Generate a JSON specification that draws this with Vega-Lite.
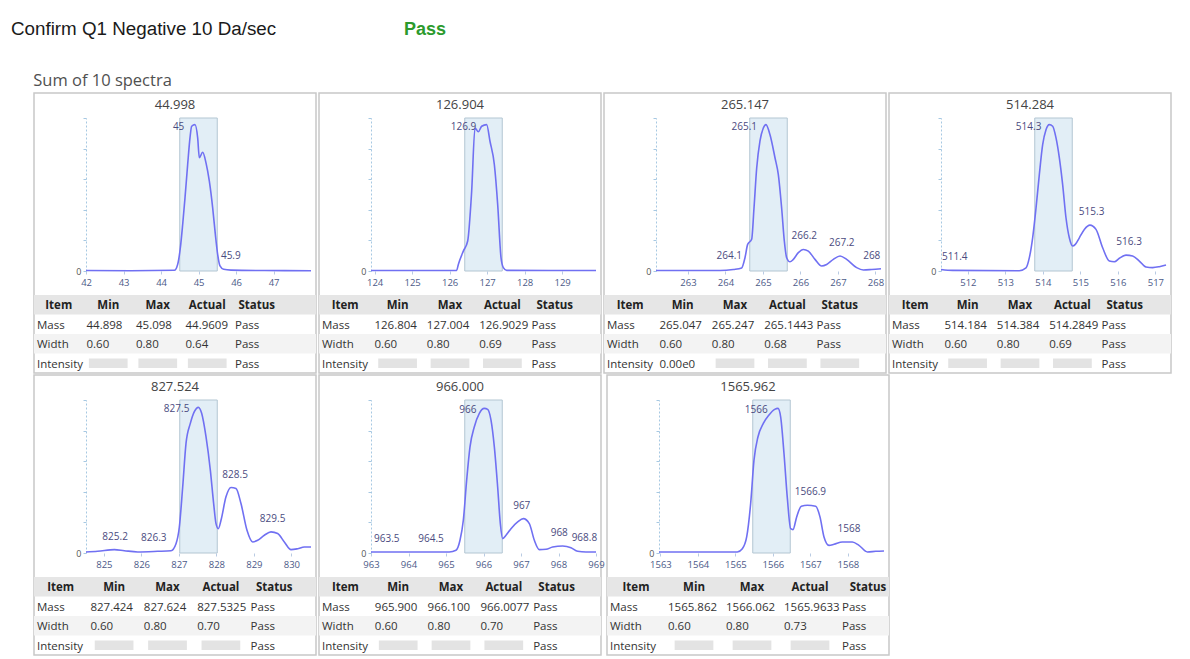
{
"$schema": "https://vega.github.io/schema/vega-lite/v6.json",
"padding": {"left": 11, "top": 19, "right": 0, "bottom": 0},
"background": "white",
"config": {"view": {"stroke": null}, "font": "Open Sans", "text": {"font": "Open Sans"}, "axis": {"labelFont": "Open Sans"}},
"datasets": {
"win": [
{"p":"44.998","lo":44.498,"hi":45.498},
{"p":"126.904","lo":126.404,"hi":127.404},
{"p":"265.147","lo":264.647,"hi":265.647},
{"p":"514.284","lo":513.784,"hi":514.784},
{"p":"827.524","lo":827.024,"hi":828.024},
{"p":"966.000","lo":965.5,"hi":966.5},
{"p":"1565.962","lo":1565.462,"hi":1566.462}
],
"lab": [
{"p":"44.998","mz":44.86,"i":95.7,"t":"45","k":"main"},
{"p":"44.998","mz":45.86,"i":1,"t":"45.9","k":"side"},
{"p":"126.904","mz":126.95,"i":95.7,"t":"126.9","k":"main"},
{"p":"265.147","mz":265.08,"i":95.7,"t":"265.1","k":"main"},
{"p":"265.147","mz":264.1,"i":1.2,"t":"264.1","k":"side"},
{"p":"265.147","mz":266.1,"i":14.1,"t":"266.2","k":"side"},
{"p":"265.147","mz":267.1,"i":9.8,"t":"267.2","k":"side"},
{"p":"265.147","mz":267.9,"i":1,"t":"268","k":"side"},
{"p":"514.284","mz":514.2,"i":95.7,"t":"514.3","k":"main"},
{"p":"514.284","mz":511.65,"i":0.5,"t":"511.4","k":"side"},
{"p":"514.284","mz":515.3,"i":30,"t":"515.3","k":"side"},
{"p":"514.284","mz":516.3,"i":10.4,"t":"516.3","k":"side"},
{"p":"827.524","mz":827.52,"i":95.2,"t":"827.5","k":"main"},
{"p":"827.524","mz":825.3,"i":2.2,"t":"825.2","k":"side"},
{"p":"827.524","mz":826.33,"i":1.1,"t":"826.3","k":"side"},
{"p":"827.524","mz":828.5,"i":42.8,"t":"828.5","k":"side"},
{"p":"827.524","mz":829.5,"i":13.8,"t":"829.5","k":"side"},
{"p":"966.000","mz":966.05,"i":94.5,"t":"966","k":"main"},
{"p":"966.000","mz":963.42,"i":0.7,"t":"963.5","k":"side"},
{"p":"966.000","mz":964.6,"i":0.7,"t":"964.5","k":"side"},
{"p":"966.000","mz":967.02,"i":22.5,"t":"967","k":"side"},
{"p":"966.000","mz":968.02,"i":4.6,"t":"968","k":"side"},
{"p":"966.000","mz":968.69,"i":1,"t":"968.8","k":"side"},
{"p":"1565.962","mz":1566.1,"i":94.5,"t":"1566","k":"main"},
{"p":"1565.962","mz":1567.0,"i":31.2,"t":"1566.9","k":"side"},
{"p":"1565.962","mz":1568.03,"i":7.2,"t":"1568","k":"side"}
],
"hdr": [
{"row":"Item","col":"Item"},{"row":"Item","col":"Min"},{"row":"Item","col":"Max"},{"row":"Item","col":"Actual"},{"row":"Item","col":"Status"}
],
"rowbg": [{"row":"Item"},{"row":"Width"}],
"tbl": [
{"p":"44.998","row":"Mass","Item":"Mass","Min":"44.898","Max":"45.098","Actual":"44.9609","Status":"Pass"},
{"p":"44.998","row":"Width","Item":"Width","Min":"0.60","Max":"0.80","Actual":"0.64","Status":"Pass"},
{"p":"44.998","row":"Intensity","Item":"Intensity","Min":null,"Max":null,"Actual":null,"Status":"Pass"},
{"p":"126.904","row":"Mass","Item":"Mass","Min":"126.804","Max":"127.004","Actual":"126.9029","Status":"Pass"},
{"p":"126.904","row":"Width","Item":"Width","Min":"0.60","Max":"0.80","Actual":"0.69","Status":"Pass"},
{"p":"126.904","row":"Intensity","Item":"Intensity","Min":null,"Max":null,"Actual":null,"Status":"Pass"},
{"p":"265.147","row":"Mass","Item":"Mass","Min":"265.047","Max":"265.247","Actual":"265.1443","Status":"Pass"},
{"p":"265.147","row":"Width","Item":"Width","Min":"0.60","Max":"0.80","Actual":"0.68","Status":"Pass"},
{"p":"265.147","row":"Intensity","Item":"Intensity","Min":"0.00e0","Max":null,"Actual":null,"Status":null},
{"p":"514.284","row":"Mass","Item":"Mass","Min":"514.184","Max":"514.384","Actual":"514.2849","Status":"Pass"},
{"p":"514.284","row":"Width","Item":"Width","Min":"0.60","Max":"0.80","Actual":"0.69","Status":"Pass"},
{"p":"514.284","row":"Intensity","Item":"Intensity","Min":null,"Max":null,"Actual":null,"Status":"Pass"},
{"p":"827.524","row":"Mass","Item":"Mass","Min":"827.424","Max":"827.624","Actual":"827.5325","Status":"Pass"},
{"p":"827.524","row":"Width","Item":"Width","Min":"0.60","Max":"0.80","Actual":"0.70","Status":"Pass"},
{"p":"827.524","row":"Intensity","Item":"Intensity","Min":null,"Max":null,"Actual":null,"Status":"Pass"},
{"p":"966.000","row":"Mass","Item":"Mass","Min":"965.900","Max":"966.100","Actual":"966.0077","Status":"Pass"},
{"p":"966.000","row":"Width","Item":"Width","Min":"0.60","Max":"0.80","Actual":"0.70","Status":"Pass"},
{"p":"966.000","row":"Intensity","Item":"Intensity","Min":null,"Max":null,"Actual":null,"Status":"Pass"},
{"p":"1565.962","row":"Mass","Item":"Mass","Min":"1565.862","Max":"1566.062","Actual":"1565.9633","Status":"Pass"},
{"p":"1565.962","row":"Width","Item":"Width","Min":"0.60","Max":"0.80","Actual":"0.73","Status":"Pass"},
{"p":"1565.962","row":"Intensity","Item":"Intensity","Min":null,"Max":null,"Actual":null,"Status":"Pass"}
],
"spec": [
{"p":"44.998","mz":41.998,"i":0.3},{"p":"44.998","mz":43.198,"i":0.2},{"p":"44.998","mz":44.354,"i":0.5},{"p":"44.998","mz":44.442,"i":4.3},{"p":"44.998","mz":44.514,"i":15.2},{"p":"44.998","mz":44.576,"i":30.4},{"p":"44.998","mz":44.638,"i":47.8},{"p":"44.998","mz":44.709,"i":69.6},{"p":"44.998","mz":44.771,"i":87},{"p":"44.998","mz":44.816,"i":94.6},{"p":"44.998","mz":44.904,"i":95.7},{"p":"44.998","mz":44.976,"i":87},{"p":"44.998","mz":45.02,"i":74},{"p":"44.998","mz":45.109,"i":77.6},{"p":"44.998","mz":45.198,"i":70.7},{"p":"44.998","mz":45.287,"i":58.7},{"p":"44.998","mz":45.376,"i":41.3},{"p":"44.998","mz":45.447,"i":23.9},{"p":"44.998","mz":45.509,"i":10.9},{"p":"44.998","mz":45.571,"i":3.3},{"p":"44.998","mz":45.669,"i":1.1},{"p":"44.998","mz":45.864,"i":0.6},{"p":"44.998","mz":46.753,"i":0.3},{"p":"44.998","mz":47.998,"i":0.2},
{"p":"126.904","mz":123.904,"i":0.3},{"p":"126.904","mz":125.5,"i":0.3},{"p":"126.904","mz":126.188,"i":0.4},{"p":"126.904","mz":126.233,"i":4.3},{"p":"126.904","mz":126.366,"i":13},{"p":"126.904","mz":126.482,"i":19.6},{"p":"126.904","mz":126.588,"i":52},{"p":"126.904","mz":126.677,"i":93.5},{"p":"126.904","mz":126.766,"i":91},{"p":"126.904","mz":126.855,"i":94.6},{"p":"126.904","mz":126.988,"i":95.7},{"p":"126.904","mz":127.077,"i":84.8},{"p":"126.904","mz":127.193,"i":69.6},{"p":"126.904","mz":127.282,"i":43.5},{"p":"126.904","mz":127.371,"i":8.7},{"p":"126.904","mz":127.433,"i":2.2},{"p":"126.904","mz":127.522,"i":0.4},{"p":"126.904","mz":128.7,"i":0.3},{"p":"126.904","mz":129.904,"i":0.3},
{"p":"265.147","mz":262.147,"i":0.3},{"p":"265.147","mz":263.854,"i":0.3},{"p":"265.147","mz":264.209,"i":1},{"p":"265.147","mz":264.431,"i":2},{"p":"265.147","mz":264.52,"i":8.7},{"p":"265.147","mz":264.591,"i":17.4},{"p":"265.147","mz":264.698,"i":20.7},{"p":"265.147","mz":264.76,"i":41},{"p":"265.147","mz":264.831,"i":67},{"p":"265.147","mz":264.92,"i":85},{"p":"265.147","mz":265.009,"i":93.5},{"p":"265.147","mz":265.08,"i":95.7},{"p":"265.147","mz":265.187,"i":89},{"p":"265.147","mz":265.32,"i":74},{"p":"265.147","mz":265.409,"i":63},{"p":"265.147","mz":265.498,"i":41},{"p":"265.147","mz":265.569,"i":19.6},{"p":"265.147","mz":265.631,"i":8.7},{"p":"265.147","mz":265.72,"i":6},{"p":"265.147","mz":265.809,"i":7.6},{"p":"265.147","mz":265.943,"i":12},{"p":"265.147","mz":266.076,"i":14.1},{"p":"265.147","mz":266.209,"i":13},{"p":"265.147","mz":266.387,"i":7.6},{"p":"265.147","mz":266.565,"i":3.3},{"p":"265.147","mz":266.698,"i":4.3},{"p":"265.147","mz":266.876,"i":7.6},{"p":"265.147","mz":267.054,"i":9.8},{"p":"265.147","mz":267.231,"i":7.6},{"p":"265.147","mz":267.498,"i":2.2},{"p":"265.147","mz":267.676,"i":0.7},{"p":"265.147","mz":267.898,"i":1},{"p":"265.147","mz":268.147,"i":1.5},
{"p":"514.284","mz":511.284,"i":1},{"p":"514.284","mz":511.595,"i":0.4},{"p":"514.284","mz":513.373,"i":0.2},{"p":"514.284","mz":513.551,"i":2},{"p":"514.284","mz":513.64,"i":8.7},{"p":"514.284","mz":513.728,"i":21.7},{"p":"514.284","mz":513.817,"i":41},{"p":"514.284","mz":513.906,"i":63},{"p":"514.284","mz":513.995,"i":82.6},{"p":"514.284","mz":514.084,"i":92.4},{"p":"514.284","mz":514.173,"i":95.7},{"p":"514.284","mz":514.262,"i":94.6},{"p":"514.284","mz":514.351,"i":87},{"p":"514.284","mz":514.44,"i":74},{"p":"514.284","mz":514.528,"i":56.5},{"p":"514.284","mz":514.617,"i":34.8},{"p":"514.284","mz":514.706,"i":21.7},{"p":"514.284","mz":514.795,"i":16.3},{"p":"514.284","mz":514.866,"i":17.4},{"p":"514.284","mz":514.973,"i":21.7},{"p":"514.284","mz":515.106,"i":27.2},{"p":"514.284","mz":515.257,"i":30},{"p":"514.284","mz":515.417,"i":27.2},{"p":"514.284","mz":515.595,"i":15.2},{"p":"514.284","mz":515.773,"i":6.5},{"p":"514.284","mz":515.906,"i":6},{"p":"514.284","mz":516.04,"i":8.3},{"p":"514.284","mz":516.217,"i":10.4},{"p":"514.284","mz":516.395,"i":9.8},{"p":"514.284","mz":516.573,"i":6.5},{"p":"514.284","mz":516.751,"i":2.6},{"p":"514.284","mz":516.928,"i":2.2},{"p":"514.284","mz":517.106,"i":2.8},{"p":"514.284","mz":517.284,"i":3.9},
{"p":"827.524","mz":824.524,"i":0.7},{"p":"827.524","mz":824.835,"i":1.1},{"p":"827.524","mz":825.28,"i":2.2},{"p":"827.524","mz":825.546,"i":1.5},{"p":"827.524","mz":825.902,"i":0.7},{"p":"827.524","mz":826.435,"i":1.1},{"p":"827.524","mz":826.791,"i":1.5},{"p":"827.524","mz":826.924,"i":6.1},{"p":"827.524","mz":827.013,"i":17},{"p":"827.524","mz":827.102,"i":43},{"p":"827.524","mz":827.191,"i":71.6},{"p":"827.524","mz":827.306,"i":84.7},{"p":"827.524","mz":827.413,"i":92.4},{"p":"827.524","mz":827.52,"i":95.2},{"p":"827.524","mz":827.608,"i":91.3},{"p":"827.524","mz":827.724,"i":76},{"p":"827.524","mz":827.84,"i":54},{"p":"827.524","mz":827.928,"i":32.3},{"p":"827.524","mz":827.991,"i":19.2},{"p":"827.524","mz":828.053,"i":15.9},{"p":"827.524","mz":828.124,"i":21.4},{"p":"827.524","mz":828.257,"i":36.7},{"p":"827.524","mz":828.391,"i":42.8},{"p":"827.524","mz":828.524,"i":42.1},{"p":"827.524","mz":828.657,"i":32.3},{"p":"827.524","mz":828.817,"i":14.8},{"p":"827.524","mz":828.968,"i":7.2},{"p":"827.524","mz":829.102,"i":8.3},{"p":"827.524","mz":829.28,"i":11.6},{"p":"827.524","mz":829.457,"i":13.8},{"p":"827.524","mz":829.635,"i":12.7},{"p":"827.524","mz":829.813,"i":7.2},{"p":"827.524","mz":829.991,"i":2.2},{"p":"827.524","mz":830.168,"i":2.8},{"p":"827.524","mz":830.346,"i":3.9},{"p":"827.524","mz":830.524,"i":3.9},
{"p":"966.000","mz":963.0,"i":0.7},{"p":"966.000","mz":964.2,"i":0.7},{"p":"966.000","mz":965.089,"i":0.7},{"p":"966.000","mz":965.267,"i":1.8},{"p":"966.000","mz":965.373,"i":8.3},{"p":"966.000","mz":965.462,"i":21.4},{"p":"966.000","mz":965.551,"i":47.6},{"p":"966.000","mz":965.64,"i":69.4},{"p":"966.000","mz":965.756,"i":82.5},{"p":"966.000","mz":965.889,"i":91.3},{"p":"966.000","mz":966.022,"i":94.5},{"p":"966.000","mz":966.111,"i":93.9},{"p":"966.000","mz":966.2,"i":86.9},{"p":"966.000","mz":966.289,"i":69.4},{"p":"966.000","mz":966.378,"i":43},{"p":"966.000","mz":966.449,"i":19.2},{"p":"966.000","mz":966.511,"i":9.4},{"p":"966.000","mz":966.6,"i":11.6},{"p":"966.000","mz":966.733,"i":15.9},{"p":"966.000","mz":966.911,"i":20.3},{"p":"966.000","mz":967.062,"i":22.5},{"p":"966.000","mz":967.222,"i":19.2},{"p":"966.000","mz":967.356,"i":8.3},{"p":"966.000","mz":967.489,"i":2.2},{"p":"966.000","mz":967.667,"i":2.4},{"p":"966.000","mz":967.844,"i":3.9},{"p":"966.000","mz":968.111,"i":4.6},{"p":"966.000","mz":968.333,"i":3.5},{"p":"966.000","mz":968.511,"i":1.1},{"p":"966.000","mz":968.733,"i":0.7},{"p":"966.000","mz":969.0,"i":0.7},
{"p":"1565.962","mz":1562.962,"i":0.7},{"p":"1565.962","mz":1565.051,"i":0.7},{"p":"1565.962","mz":1565.184,"i":2.8},{"p":"1565.962","mz":1565.3,"i":10.5},{"p":"1565.962","mz":1565.406,"i":32.3},{"p":"1565.962","mz":1565.495,"i":60.7},{"p":"1565.962","mz":1565.602,"i":76},{"p":"1565.962","mz":1565.744,"i":84.7},{"p":"1565.962","mz":1565.895,"i":90.2},{"p":"1565.962","mz":1566.046,"i":93.9},{"p":"1565.962","mz":1566.135,"i":94.5},{"p":"1565.962","mz":1566.206,"i":89},{"p":"1565.962","mz":1566.295,"i":65},{"p":"1565.962","mz":1566.384,"i":36},{"p":"1565.962","mz":1566.473,"i":15.9},{"p":"1565.962","mz":1566.535,"i":15.3},{"p":"1565.962","mz":1566.633,"i":23.6},{"p":"1565.962","mz":1566.758,"i":30.6},{"p":"1565.962","mz":1566.918,"i":31.2},{"p":"1565.962","mz":1567.14,"i":30.6},{"p":"1565.962","mz":1567.255,"i":23.6},{"p":"1565.962","mz":1567.362,"i":10.5},{"p":"1565.962","mz":1567.495,"i":5},{"p":"1565.962","mz":1567.629,"i":5.7},{"p":"1565.962","mz":1567.851,"i":7.2},{"p":"1565.962","mz":1568.118,"i":7.2},{"p":"1565.962","mz":1568.295,"i":5},{"p":"1565.962","mz":1568.518,"i":0.7},{"p":"1565.962","mz":1568.74,"i":1.1},{"p":"1565.962","mz":1568.962,"i":1.3}
]
},
"spacing": 18,
"vconcat": [
{"hconcat": [
 {"width": 370, "height": 1, "title": {"text": "Confirm Q1 Negative 10 Da/sec", "anchor": "start", "dx": -23, "offset": 4, "font": "Liberation Sans", "fontSize": 18.8, "fontWeight": "normal", "color": "#1a1a1a"}, "data": {"values": [{}]}, "mark": "text", "encoding": {"text": {"value": ""}}},
 {"width": 100, "height": 1, "title": {"text": "Pass", "anchor": "start", "offset": 4, "font": "Liberation Sans", "fontSize": 18, "fontWeight": "bold", "color": "#2c9a2c"}, "data": {"values": [{}]}, "mark": "text", "encoding": {"text": {"value": ""}}}
], "spacing": 0},
{"title": {"text": "Sum of 10 spectra", "anchor": "start", "offset": 3, "font": "Open Sans", "fontSize": 16.5, "fontWeight": "normal", "color": "#505050"},
 "spacing": 0,
 "vconcat": [
 {"spacing": 1, "hconcat": [
  {"width":282,"height":280,"view":{"stroke":"#c8c8c8","strokeWidth":1.5},
   "title":{"text":"44.998","offset":-19,"anchor":"middle","fontSize":13,"fontWeight":"normal","color":"#444444","font":"Open Sans"},
   "resolve":{"scale":{"x":"independent","y":"independent"}},
   "layer":[
    {"layer":[
     {"data":{"name":"win"},"transform":[{"filter":{"field":"p","equal":"44.998"}}],"mark":{"type":"rect","fill":"#e2eef6","stroke":"#b3c6d2","strokeWidth":1},
      "encoding":{"x":{"field":"lo","type":"quantitative","scale":{"domain":[41.998,47.998],"range":[52,277],"nice":false,"zero":false},"axis":{"title":null,"orient":"bottom","offset":-102,"domain":false,"ticks":true,"tickSize":3,"tickColor":"#b9cbe3","grid":false,"format":"d","tickCount":6,"labelFontSize":9.5,"labelColor":"#4c5a88","labelPadding":3,"labelFlush":false,"labelOverlap":false}},"x2":{"field":"hi"},
       "y":{"datum":100,"type":"quantitative","scale":{"domain":[0,100],"range":[178,25],"nice":false},"axis":{"title":null,"orient":"left","offset":-52,"values":[0,5,10,15,20,25,30,35,40,45,50,55,60,65,70,75,80,85,90,95,100],"labelExpr":"datum.value === 0 ? '0' : ''","labelOverlap":false,"domain":true,"domainColor":"#a6c8e2","domainDash":[2,2],"ticks":true,"tickColor":"#a6c8e2","tickSize":3,"grid":false,"labelFontSize":9,"labelColor":"#555555","labelPadding":2}},"y2":{"datum":0}}},
     {"data":{"name":"spec"},"transform":[{"filter":{"field":"p","equal":"44.998"}}],"mark":{"type":"line","color":"#7070f2","strokeWidth":1.6,"interpolate":"monotone"},"encoding":{"x":{"field":"mz","type":"quantitative"},"y":{"field":"i","type":"quantitative"}}},
     {"data":{"name":"lab"},"transform":[{"filter":{"field":"p","equal":"44.998"}},{"filter":{"field":"k","equal":"main"}}],"mark":{"type":"text","align":"right","baseline":"middle","dx":-9,"dy":2,"fontSize":10,"color":"#4b4b80"},"encoding":{"x":{"field":"mz","type":"quantitative"},"y":{"field":"i","type":"quantitative"},"text":{"field":"t"}}},
     {"data":{"name":"lab"},"transform":[{"filter":{"field":"p","equal":"44.998"}},{"filter":{"field":"k","equal":"side"}}],"mark":{"type":"text","align":"center","baseline":"bottom","dy":-8,"fontSize":10,"color":"#4b4b80"},"encoding":{"x":{"field":"mz","type":"quantitative"},"y":{"field":"i","type":"quantitative"},"text":{"field":"t"}}}
    ]},
    {"layer":[
     {"data":{"name":"rowbg"},"mark":{"type":"rect"},"encoding":{"y":{"field":"row","type":"nominal","scale":{"type":"band","domain":["Item","Mass","Width","Intensity"],"range":[202,280],"paddingInner":0,"paddingOuter":0},"axis":null},"color":{"field":"row","type":"nominal","scale":{"domain":["Item","Width"],"range":["#e6e6e6","#f3f3f3"]},"legend":null}}},
     {"data":{"name":"hdr"},"mark":{"type":"text","fontWeight":"bold","fontSize":11.5,"color":"#222222","dy":1},"encoding":{"x":{"field":"col","type":"nominal","scale":{"type":"band","domain":["Item","Min","Max","Actual","Status"],"range":[0,247.5],"paddingInner":0,"paddingOuter":0},"axis":null},"y":{"field":"row","type":"nominal"},"text":{"field":"col"}}},
     {"data":{"name":"tbl"},"transform":[{"filter":{"field":"p","equal":"44.998"}},{"fold":["Item","Min","Max","Actual","Status"],"as":["col","v"]},{"filter":"datum.v != null"}],"mark":{"type":"text","align":"left","dx":3,"dy":1.5,"fontSize":11.5,"color":"#333333"},"encoding":{"x":{"field":"col","type":"nominal","bandPosition":0},"y":{"field":"row","type":"nominal"},"text":{"field":"v"}}},
     {"data":{"name":"tbl"},"transform":[{"filter":{"field":"p","equal":"44.998"}},{"fold":["Item","Min","Max","Actual","Status"],"as":["col","v"]},{"filter":"datum.v == null"}],"mark":{"type":"point","shape":"M-1,-0.25L1,-0.25L1,0.25L-1,0.25Z","filled":true,"size":1500,"color":"#e3e3e3","opacity":1},"encoding":{"x":{"field":"col","type":"nominal"},"y":{"field":"row","type":"nominal"}}}
    ]}
   ]},
  {"width":282,"height":280,"view":{"stroke":"#c8c8c8","strokeWidth":1.5},
   "title":{"text":"126.904","offset":-19,"anchor":"middle","fontSize":13,"fontWeight":"normal","color":"#444444","font":"Open Sans"},
   "resolve":{"scale":{"x":"independent","y":"independent"}},
   "layer":[
    {"layer":[
     {"data":{"name":"win"},"transform":[{"filter":{"field":"p","equal":"126.904"}}],"mark":{"type":"rect","fill":"#e2eef6","stroke":"#b3c6d2","strokeWidth":1},
      "encoding":{"x":{"field":"lo","type":"quantitative","scale":{"domain":[123.904,129.904],"range":[52,277],"nice":false,"zero":false},"axis":{"title":null,"orient":"bottom","offset":-102,"domain":false,"ticks":true,"tickSize":3,"tickColor":"#b9cbe3","grid":false,"format":"d","tickCount":6,"labelFontSize":9.5,"labelColor":"#4c5a88","labelPadding":3,"labelFlush":false,"labelOverlap":false}},"x2":{"field":"hi"},
       "y":{"datum":100,"type":"quantitative","scale":{"domain":[0,100],"range":[178,25],"nice":false},"axis":{"title":null,"orient":"left","offset":-52,"values":[0,5,10,15,20,25,30,35,40,45,50,55,60,65,70,75,80,85,90,95,100],"labelExpr":"datum.value === 0 ? '0' : ''","labelOverlap":false,"domain":true,"domainColor":"#a6c8e2","domainDash":[2,2],"ticks":true,"tickColor":"#a6c8e2","tickSize":3,"grid":false,"labelFontSize":9,"labelColor":"#555555","labelPadding":2}},"y2":{"datum":0}}},
     {"data":{"name":"spec"},"transform":[{"filter":{"field":"p","equal":"126.904"}}],"mark":{"type":"line","color":"#7070f2","strokeWidth":1.6,"interpolate":"monotone"},"encoding":{"x":{"field":"mz","type":"quantitative"},"y":{"field":"i","type":"quantitative"}}},
     {"data":{"name":"lab"},"transform":[{"filter":{"field":"p","equal":"126.904"}},{"filter":{"field":"k","equal":"main"}}],"mark":{"type":"text","align":"right","baseline":"middle","dx":-9,"dy":2,"fontSize":10,"color":"#4b4b80"},"encoding":{"x":{"field":"mz","type":"quantitative"},"y":{"field":"i","type":"quantitative"},"text":{"field":"t"}}}
    ]},
    {"layer":[
     {"data":{"name":"rowbg"},"mark":{"type":"rect"},"encoding":{"y":{"field":"row","type":"nominal","scale":{"type":"band","domain":["Item","Mass","Width","Intensity"],"range":[202,280],"paddingInner":0,"paddingOuter":0},"axis":null},"color":{"field":"row","type":"nominal","scale":{"domain":["Item","Width"],"range":["#e6e6e6","#f3f3f3"]},"legend":null}}},
     {"data":{"name":"hdr"},"mark":{"type":"text","fontWeight":"bold","fontSize":11.5,"color":"#222222","dy":1},"encoding":{"x":{"field":"col","type":"nominal","scale":{"type":"band","domain":["Item","Min","Max","Actual","Status"],"range":[0,262],"paddingInner":0,"paddingOuter":0},"axis":null},"y":{"field":"row","type":"nominal"},"text":{"field":"col"}}},
     {"data":{"name":"tbl"},"transform":[{"filter":{"field":"p","equal":"126.904"}},{"fold":["Item","Min","Max","Actual","Status"],"as":["col","v"]},{"filter":"datum.v != null"}],"mark":{"type":"text","align":"left","dx":3,"dy":1.5,"fontSize":11.5,"color":"#333333"},"encoding":{"x":{"field":"col","type":"nominal","bandPosition":0},"y":{"field":"row","type":"nominal"},"text":{"field":"v"}}},
     {"data":{"name":"tbl"},"transform":[{"filter":{"field":"p","equal":"126.904"}},{"fold":["Item","Min","Max","Actual","Status"],"as":["col","v"]},{"filter":"datum.v == null"}],"mark":{"type":"point","shape":"M-1,-0.25L1,-0.25L1,0.25L-1,0.25Z","filled":true,"size":1500,"color":"#e3e3e3","opacity":1},"encoding":{"x":{"field":"col","type":"nominal"},"y":{"field":"row","type":"nominal"}}}
    ]}
   ]},
  {"width":282,"height":280,"view":{"stroke":"#c8c8c8","strokeWidth":1.5},
   "title":{"text":"265.147","offset":-19,"anchor":"middle","fontSize":13,"fontWeight":"normal","color":"#444444","font":"Open Sans"},
   "resolve":{"scale":{"x":"independent","y":"independent"}},
   "layer":[
    {"layer":[
     {"data":{"name":"win"},"transform":[{"filter":{"field":"p","equal":"265.147"}}],"mark":{"type":"rect","fill":"#e2eef6","stroke":"#b3c6d2","strokeWidth":1},
      "encoding":{"x":{"field":"lo","type":"quantitative","scale":{"domain":[262.147,268.147],"range":[52,277],"nice":false,"zero":false},"axis":{"title":null,"orient":"bottom","offset":-102,"domain":false,"ticks":true,"tickSize":3,"tickColor":"#b9cbe3","grid":false,"format":"d","tickCount":6,"labelFontSize":9.5,"labelColor":"#4c5a88","labelPadding":3,"labelFlush":false,"labelOverlap":false}},"x2":{"field":"hi"},
       "y":{"datum":100,"type":"quantitative","scale":{"domain":[0,100],"range":[178,25],"nice":false},"axis":{"title":null,"orient":"left","offset":-52,"values":[0,5,10,15,20,25,30,35,40,45,50,55,60,65,70,75,80,85,90,95,100],"labelExpr":"datum.value === 0 ? '0' : ''","labelOverlap":false,"domain":true,"domainColor":"#a6c8e2","domainDash":[2,2],"ticks":true,"tickColor":"#a6c8e2","tickSize":3,"grid":false,"labelFontSize":9,"labelColor":"#555555","labelPadding":2}},"y2":{"datum":0}}},
     {"data":{"name":"spec"},"transform":[{"filter":{"field":"p","equal":"265.147"}}],"mark":{"type":"line","color":"#7070f2","strokeWidth":1.6,"interpolate":"monotone"},"encoding":{"x":{"field":"mz","type":"quantitative"},"y":{"field":"i","type":"quantitative"}}},
     {"data":{"name":"lab"},"transform":[{"filter":{"field":"p","equal":"265.147"}},{"filter":{"field":"k","equal":"main"}}],"mark":{"type":"text","align":"right","baseline":"middle","dx":-9,"dy":2,"fontSize":10,"color":"#4b4b80"},"encoding":{"x":{"field":"mz","type":"quantitative"},"y":{"field":"i","type":"quantitative"},"text":{"field":"t"}}},
     {"data":{"name":"lab"},"transform":[{"filter":{"field":"p","equal":"265.147"}},{"filter":{"field":"k","equal":"side"}}],"mark":{"type":"text","align":"center","baseline":"bottom","dy":-8,"fontSize":10,"color":"#4b4b80"},"encoding":{"x":{"field":"mz","type":"quantitative"},"y":{"field":"i","type":"quantitative"},"text":{"field":"t"}}}
    ]},
    {"layer":[
     {"data":{"name":"rowbg"},"mark":{"type":"rect"},"encoding":{"y":{"field":"row","type":"nominal","scale":{"type":"band","domain":["Item","Mass","Width","Intensity"],"range":[202,280],"paddingInner":0,"paddingOuter":0},"axis":null},"color":{"field":"row","type":"nominal","scale":{"domain":["Item","Width"],"range":["#e6e6e6","#f3f3f3"]},"legend":null}}},
     {"data":{"name":"hdr"},"mark":{"type":"text","fontWeight":"bold","fontSize":11.5,"color":"#222222","dy":1},"encoding":{"x":{"field":"col","type":"nominal","scale":{"type":"band","domain":["Item","Min","Max","Actual","Status"],"range":[0,262],"paddingInner":0,"paddingOuter":0},"axis":null},"y":{"field":"row","type":"nominal"},"text":{"field":"col"}}},
     {"data":{"name":"tbl"},"transform":[{"filter":{"field":"p","equal":"265.147"}},{"fold":["Item","Min","Max","Actual","Status"],"as":["col","v"]},{"filter":"datum.v != null"}],"mark":{"type":"text","align":"left","dx":3,"dy":1.5,"fontSize":11.5,"color":"#333333"},"encoding":{"x":{"field":"col","type":"nominal","bandPosition":0},"y":{"field":"row","type":"nominal"},"text":{"field":"v"}}},
     {"data":{"name":"tbl"},"transform":[{"filter":{"field":"p","equal":"265.147"}},{"fold":["Item","Min","Max","Actual","Status"],"as":["col","v"]},{"filter":"datum.v == null"}],"mark":{"type":"point","shape":"M-1,-0.25L1,-0.25L1,0.25L-1,0.25Z","filled":true,"size":1500,"color":"#e3e3e3","opacity":1},"encoding":{"x":{"field":"col","type":"nominal"},"y":{"field":"row","type":"nominal"}}}
    ]}
   ]},
  {"width":282,"height":280,"view":{"stroke":"#c8c8c8","strokeWidth":1.5},
   "title":{"text":"514.284","offset":-19,"anchor":"middle","fontSize":13,"fontWeight":"normal","color":"#444444","font":"Open Sans"},
   "resolve":{"scale":{"x":"independent","y":"independent"}},
   "layer":[
    {"layer":[
     {"data":{"name":"win"},"transform":[{"filter":{"field":"p","equal":"514.284"}}],"mark":{"type":"rect","fill":"#e2eef6","stroke":"#b3c6d2","strokeWidth":1},
      "encoding":{"x":{"field":"lo","type":"quantitative","scale":{"domain":[511.284,517.284],"range":[52,277],"nice":false,"zero":false},"axis":{"title":null,"orient":"bottom","offset":-102,"domain":false,"ticks":true,"tickSize":3,"tickColor":"#b9cbe3","grid":false,"format":"d","tickCount":6,"labelFontSize":9.5,"labelColor":"#4c5a88","labelPadding":3,"labelFlush":false,"labelOverlap":false}},"x2":{"field":"hi"},
       "y":{"datum":100,"type":"quantitative","scale":{"domain":[0,100],"range":[178,25],"nice":false},"axis":{"title":null,"orient":"left","offset":-52,"values":[0,5,10,15,20,25,30,35,40,45,50,55,60,65,70,75,80,85,90,95,100],"labelExpr":"datum.value === 0 ? '0' : ''","labelOverlap":false,"domain":true,"domainColor":"#a6c8e2","domainDash":[2,2],"ticks":true,"tickColor":"#a6c8e2","tickSize":3,"grid":false,"labelFontSize":9,"labelColor":"#555555","labelPadding":2}},"y2":{"datum":0}}},
     {"data":{"name":"spec"},"transform":[{"filter":{"field":"p","equal":"514.284"}}],"mark":{"type":"line","color":"#7070f2","strokeWidth":1.6,"interpolate":"monotone"},"encoding":{"x":{"field":"mz","type":"quantitative"},"y":{"field":"i","type":"quantitative"}}},
     {"data":{"name":"lab"},"transform":[{"filter":{"field":"p","equal":"514.284"}},{"filter":{"field":"k","equal":"main"}}],"mark":{"type":"text","align":"right","baseline":"middle","dx":-9,"dy":2,"fontSize":10,"color":"#4b4b80"},"encoding":{"x":{"field":"mz","type":"quantitative"},"y":{"field":"i","type":"quantitative"},"text":{"field":"t"}}},
     {"data":{"name":"lab"},"transform":[{"filter":{"field":"p","equal":"514.284"}},{"filter":{"field":"k","equal":"side"}}],"mark":{"type":"text","align":"center","baseline":"bottom","dy":-8,"fontSize":10,"color":"#4b4b80"},"encoding":{"x":{"field":"mz","type":"quantitative"},"y":{"field":"i","type":"quantitative"},"text":{"field":"t"}}}
    ]},
    {"layer":[
     {"data":{"name":"rowbg"},"mark":{"type":"rect"},"encoding":{"y":{"field":"row","type":"nominal","scale":{"type":"band","domain":["Item","Mass","Width","Intensity"],"range":[202,280],"paddingInner":0,"paddingOuter":0},"axis":null},"color":{"field":"row","type":"nominal","scale":{"domain":["Item","Width"],"range":["#e6e6e6","#f3f3f3"]},"legend":null}}},
     {"data":{"name":"hdr"},"mark":{"type":"text","fontWeight":"bold","fontSize":11.5,"color":"#222222","dy":1},"encoding":{"x":{"field":"col","type":"nominal","scale":{"type":"band","domain":["Item","Min","Max","Actual","Status"],"range":[0,262],"paddingInner":0,"paddingOuter":0},"axis":null},"y":{"field":"row","type":"nominal"},"text":{"field":"col"}}},
     {"data":{"name":"tbl"},"transform":[{"filter":{"field":"p","equal":"514.284"}},{"fold":["Item","Min","Max","Actual","Status"],"as":["col","v"]},{"filter":"datum.v != null"}],"mark":{"type":"text","align":"left","dx":3,"dy":1.5,"fontSize":11.5,"color":"#333333"},"encoding":{"x":{"field":"col","type":"nominal","bandPosition":0},"y":{"field":"row","type":"nominal"},"text":{"field":"v"}}},
     {"data":{"name":"tbl"},"transform":[{"filter":{"field":"p","equal":"514.284"}},{"fold":["Item","Min","Max","Actual","Status"],"as":["col","v"]},{"filter":"datum.v == null"}],"mark":{"type":"point","shape":"M-1,-0.25L1,-0.25L1,0.25L-1,0.25Z","filled":true,"size":1500,"color":"#e3e3e3","opacity":1},"encoding":{"x":{"field":"col","type":"nominal"},"y":{"field":"row","type":"nominal"}}}
    ]}
   ]}
 ]},
 {"spacing": 1, "hconcat": [
  {"width":282,"height":280,"view":{"stroke":"#c8c8c8","strokeWidth":1.5},
   "title":{"text":"827.524","offset":-19,"anchor":"middle","fontSize":13,"fontWeight":"normal","color":"#444444","font":"Open Sans"},
   "resolve":{"scale":{"x":"independent","y":"independent"}},
   "layer":[
    {"layer":[
     {"data":{"name":"win"},"transform":[{"filter":{"field":"p","equal":"827.524"}}],"mark":{"type":"rect","fill":"#e2eef6","stroke":"#b3c6d2","strokeWidth":1},
      "encoding":{"x":{"field":"lo","type":"quantitative","scale":{"domain":[824.524,830.524],"range":[52,277],"nice":false,"zero":false},"axis":{"title":null,"orient":"bottom","offset":-102,"domain":false,"ticks":true,"tickSize":3,"tickColor":"#b9cbe3","grid":false,"format":"d","tickCount":6,"labelFontSize":9.5,"labelColor":"#4c5a88","labelPadding":3,"labelFlush":false,"labelOverlap":false}},"x2":{"field":"hi"},
       "y":{"datum":100,"type":"quantitative","scale":{"domain":[0,100],"range":[178,25],"nice":false},"axis":{"title":null,"orient":"left","offset":-52,"values":[0,5,10,15,20,25,30,35,40,45,50,55,60,65,70,75,80,85,90,95,100],"labelExpr":"datum.value === 0 ? '0' : ''","labelOverlap":false,"domain":true,"domainColor":"#a6c8e2","domainDash":[2,2],"ticks":true,"tickColor":"#a6c8e2","tickSize":3,"grid":false,"labelFontSize":9,"labelColor":"#555555","labelPadding":2}},"y2":{"datum":0}}},
     {"data":{"name":"spec"},"transform":[{"filter":{"field":"p","equal":"827.524"}}],"mark":{"type":"line","color":"#7070f2","strokeWidth":1.6,"interpolate":"monotone"},"encoding":{"x":{"field":"mz","type":"quantitative"},"y":{"field":"i","type":"quantitative"}}},
     {"data":{"name":"lab"},"transform":[{"filter":{"field":"p","equal":"827.524"}},{"filter":{"field":"k","equal":"main"}}],"mark":{"type":"text","align":"right","baseline":"middle","dx":-9,"dy":2,"fontSize":10,"color":"#4b4b80"},"encoding":{"x":{"field":"mz","type":"quantitative"},"y":{"field":"i","type":"quantitative"},"text":{"field":"t"}}},
     {"data":{"name":"lab"},"transform":[{"filter":{"field":"p","equal":"827.524"}},{"filter":{"field":"k","equal":"side"}}],"mark":{"type":"text","align":"center","baseline":"bottom","dy":-8,"fontSize":10,"color":"#4b4b80"},"encoding":{"x":{"field":"mz","type":"quantitative"},"y":{"field":"i","type":"quantitative"},"text":{"field":"t"}}}
    ]},
    {"layer":[
     {"data":{"name":"rowbg"},"mark":{"type":"rect"},"encoding":{"y":{"field":"row","type":"nominal","scale":{"type":"band","domain":["Item","Mass","Width","Intensity"],"range":[202,280],"paddingInner":0,"paddingOuter":0},"axis":null},"color":{"field":"row","type":"nominal","scale":{"domain":["Item","Width"],"range":["#e6e6e6","#f3f3f3"]},"legend":null}}},
     {"data":{"name":"hdr"},"mark":{"type":"text","fontWeight":"bold","fontSize":11.5,"color":"#222222","dy":1},"encoding":{"x":{"field":"col","type":"nominal","scale":{"type":"band","domain":["Item","Min","Max","Actual","Status"],"range":[0,267],"paddingInner":0,"paddingOuter":0},"axis":null},"y":{"field":"row","type":"nominal"},"text":{"field":"col"}}},
     {"data":{"name":"tbl"},"transform":[{"filter":{"field":"p","equal":"827.524"}},{"fold":["Item","Min","Max","Actual","Status"],"as":["col","v"]},{"filter":"datum.v != null"}],"mark":{"type":"text","align":"left","dx":3,"dy":1.5,"fontSize":11.5,"color":"#333333"},"encoding":{"x":{"field":"col","type":"nominal","bandPosition":0},"y":{"field":"row","type":"nominal"},"text":{"field":"v"}}},
     {"data":{"name":"tbl"},"transform":[{"filter":{"field":"p","equal":"827.524"}},{"fold":["Item","Min","Max","Actual","Status"],"as":["col","v"]},{"filter":"datum.v == null"}],"mark":{"type":"point","shape":"M-1,-0.25L1,-0.25L1,0.25L-1,0.25Z","filled":true,"size":1500,"color":"#e3e3e3","opacity":1},"encoding":{"x":{"field":"col","type":"nominal"},"y":{"field":"row","type":"nominal"}}}
    ]}
   ]},
  {"width":282,"height":280,"view":{"stroke":"#c8c8c8","strokeWidth":1.5},
   "title":{"text":"966.000","offset":-19,"anchor":"middle","fontSize":13,"fontWeight":"normal","color":"#444444","font":"Open Sans"},
   "resolve":{"scale":{"x":"independent","y":"independent"}},
   "layer":[
    {"layer":[
     {"data":{"name":"win"},"transform":[{"filter":{"field":"p","equal":"966.000"}}],"mark":{"type":"rect","fill":"#e2eef6","stroke":"#b3c6d2","strokeWidth":1},
      "encoding":{"x":{"field":"lo","type":"quantitative","scale":{"domain":[963,969],"range":[52,277],"nice":false,"zero":false},"axis":{"title":null,"orient":"bottom","offset":-102,"domain":false,"ticks":true,"tickSize":3,"tickColor":"#b9cbe3","grid":false,"format":"d","tickCount":6,"labelFontSize":9.5,"labelColor":"#4c5a88","labelPadding":3,"labelFlush":false,"labelOverlap":false}},"x2":{"field":"hi"},
       "y":{"datum":100,"type":"quantitative","scale":{"domain":[0,100],"range":[178,25],"nice":false},"axis":{"title":null,"orient":"left","offset":-52,"values":[0,5,10,15,20,25,30,35,40,45,50,55,60,65,70,75,80,85,90,95,100],"labelExpr":"datum.value === 0 ? '0' : ''","labelOverlap":false,"domain":true,"domainColor":"#a6c8e2","domainDash":[2,2],"ticks":true,"tickColor":"#a6c8e2","tickSize":3,"grid":false,"labelFontSize":9,"labelColor":"#555555","labelPadding":2}},"y2":{"datum":0}}},
     {"data":{"name":"spec"},"transform":[{"filter":{"field":"p","equal":"966.000"}}],"mark":{"type":"line","color":"#7070f2","strokeWidth":1.6,"interpolate":"monotone"},"encoding":{"x":{"field":"mz","type":"quantitative"},"y":{"field":"i","type":"quantitative"}}},
     {"data":{"name":"lab"},"transform":[{"filter":{"field":"p","equal":"966.000"}},{"filter":{"field":"k","equal":"main"}}],"mark":{"type":"text","align":"right","baseline":"middle","dx":-9,"dy":2,"fontSize":10,"color":"#4b4b80"},"encoding":{"x":{"field":"mz","type":"quantitative"},"y":{"field":"i","type":"quantitative"},"text":{"field":"t"}}},
     {"data":{"name":"lab"},"transform":[{"filter":{"field":"p","equal":"966.000"}},{"filter":{"field":"k","equal":"side"}}],"mark":{"type":"text","align":"center","baseline":"bottom","dy":-8,"fontSize":10,"color":"#4b4b80"},"encoding":{"x":{"field":"mz","type":"quantitative"},"y":{"field":"i","type":"quantitative"},"text":{"field":"t"}}}
    ]},
    {"layer":[
     {"data":{"name":"rowbg"},"mark":{"type":"rect"},"encoding":{"y":{"field":"row","type":"nominal","scale":{"type":"band","domain":["Item","Mass","Width","Intensity"],"range":[202,280],"paddingInner":0,"paddingOuter":0},"axis":null},"color":{"field":"row","type":"nominal","scale":{"domain":["Item","Width"],"range":["#e6e6e6","#f3f3f3"]},"legend":null}}},
     {"data":{"name":"hdr"},"mark":{"type":"text","fontWeight":"bold","fontSize":11.5,"color":"#222222","dy":1},"encoding":{"x":{"field":"col","type":"nominal","scale":{"type":"band","domain":["Item","Min","Max","Actual","Status"],"range":[0,264],"paddingInner":0,"paddingOuter":0},"axis":null},"y":{"field":"row","type":"nominal"},"text":{"field":"col"}}},
     {"data":{"name":"tbl"},"transform":[{"filter":{"field":"p","equal":"966.000"}},{"fold":["Item","Min","Max","Actual","Status"],"as":["col","v"]},{"filter":"datum.v != null"}],"mark":{"type":"text","align":"left","dx":3,"dy":1.5,"fontSize":11.5,"color":"#333333"},"encoding":{"x":{"field":"col","type":"nominal","bandPosition":0},"y":{"field":"row","type":"nominal"},"text":{"field":"v"}}},
     {"data":{"name":"tbl"},"transform":[{"filter":{"field":"p","equal":"966.000"}},{"fold":["Item","Min","Max","Actual","Status"],"as":["col","v"]},{"filter":"datum.v == null"}],"mark":{"type":"point","shape":"M-1,-0.25L1,-0.25L1,0.25L-1,0.25Z","filled":true,"size":1500,"color":"#e3e3e3","opacity":1},"encoding":{"x":{"field":"col","type":"nominal"},"y":{"field":"row","type":"nominal"}}}
    ]}
   ]},
  {"width":282,"height":280,"view":{"stroke":"#c8c8c8","strokeWidth":1.5},
   "title":{"text":"1565.962","offset":-19,"anchor":"middle","fontSize":13,"fontWeight":"normal","color":"#444444","font":"Open Sans"},
   "resolve":{"scale":{"x":"independent","y":"independent"}},
   "layer":[
    {"layer":[
     {"data":{"name":"win"},"transform":[{"filter":{"field":"p","equal":"1565.962"}}],"mark":{"type":"rect","fill":"#e2eef6","stroke":"#b3c6d2","strokeWidth":1},
      "encoding":{"x":{"field":"lo","type":"quantitative","scale":{"domain":[1562.962,1568.962],"range":[52,277],"nice":false,"zero":false},"axis":{"title":null,"orient":"bottom","offset":-102,"domain":false,"ticks":true,"tickSize":3,"tickColor":"#b9cbe3","grid":false,"format":"d","tickCount":6,"labelFontSize":9.5,"labelColor":"#4c5a88","labelPadding":3,"labelFlush":false,"labelOverlap":false}},"x2":{"field":"hi"},
       "y":{"datum":100,"type":"quantitative","scale":{"domain":[0,100],"range":[178,25],"nice":false},"axis":{"title":null,"orient":"left","offset":-52,"values":[0,5,10,15,20,25,30,35,40,45,50,55,60,65,70,75,80,85,90,95,100],"labelExpr":"datum.value === 0 ? '0' : ''","labelOverlap":false,"domain":true,"domainColor":"#a6c8e2","domainDash":[2,2],"ticks":true,"tickColor":"#a6c8e2","tickSize":3,"grid":false,"labelFontSize":9,"labelColor":"#555555","labelPadding":2}},"y2":{"datum":0}}},
     {"data":{"name":"spec"},"transform":[{"filter":{"field":"p","equal":"1565.962"}}],"mark":{"type":"line","color":"#7070f2","strokeWidth":1.6,"interpolate":"monotone"},"encoding":{"x":{"field":"mz","type":"quantitative"},"y":{"field":"i","type":"quantitative"}}},
     {"data":{"name":"lab"},"transform":[{"filter":{"field":"p","equal":"1565.962"}},{"filter":{"field":"k","equal":"main"}}],"mark":{"type":"text","align":"right","baseline":"middle","dx":-9,"dy":2,"fontSize":10,"color":"#4b4b80"},"encoding":{"x":{"field":"mz","type":"quantitative"},"y":{"field":"i","type":"quantitative"},"text":{"field":"t"}}},
     {"data":{"name":"lab"},"transform":[{"filter":{"field":"p","equal":"1565.962"}},{"filter":{"field":"k","equal":"side"}}],"mark":{"type":"text","align":"center","baseline":"bottom","dy":-8,"fontSize":10,"color":"#4b4b80"},"encoding":{"x":{"field":"mz","type":"quantitative"},"y":{"field":"i","type":"quantitative"},"text":{"field":"t"}}}
    ]},
    {"layer":[
     {"data":{"name":"rowbg"},"mark":{"type":"rect"},"encoding":{"y":{"field":"row","type":"nominal","scale":{"type":"band","domain":["Item","Mass","Width","Intensity"],"range":[202,280],"paddingInner":0,"paddingOuter":0},"axis":null},"color":{"field":"row","type":"nominal","scale":{"domain":["Item","Width"],"range":["#e6e6e6","#f3f3f3"]},"legend":null}}},
     {"data":{"name":"hdr"},"mark":{"type":"text","fontWeight":"bold","fontSize":11.5,"color":"#222222","dy":1},"encoding":{"x":{"field":"col","type":"nominal","scale":{"type":"band","domain":["Item","Min","Max","Actual","Status"],"range":[0,290],"paddingInner":0,"paddingOuter":0},"axis":null},"y":{"field":"row","type":"nominal"},"text":{"field":"col"}}},
     {"data":{"name":"tbl"},"transform":[{"filter":{"field":"p","equal":"1565.962"}},{"fold":["Item","Min","Max","Actual","Status"],"as":["col","v"]},{"filter":"datum.v != null"}],"mark":{"type":"text","align":"left","dx":3,"dy":1.5,"fontSize":11.5,"color":"#333333"},"encoding":{"x":{"field":"col","type":"nominal","bandPosition":0},"y":{"field":"row","type":"nominal"},"text":{"field":"v"}}},
     {"data":{"name":"tbl"},"transform":[{"filter":{"field":"p","equal":"1565.962"}},{"fold":["Item","Min","Max","Actual","Status"],"as":["col","v"]},{"filter":"datum.v == null"}],"mark":{"type":"point","shape":"M-1,-0.25L1,-0.25L1,0.25L-1,0.25Z","filled":true,"size":1500,"color":"#e3e3e3","opacity":1},"encoding":{"x":{"field":"col","type":"nominal"},"y":{"field":"row","type":"nominal"}}}
    ]}
   ]}
 ]}
]}
]
}
